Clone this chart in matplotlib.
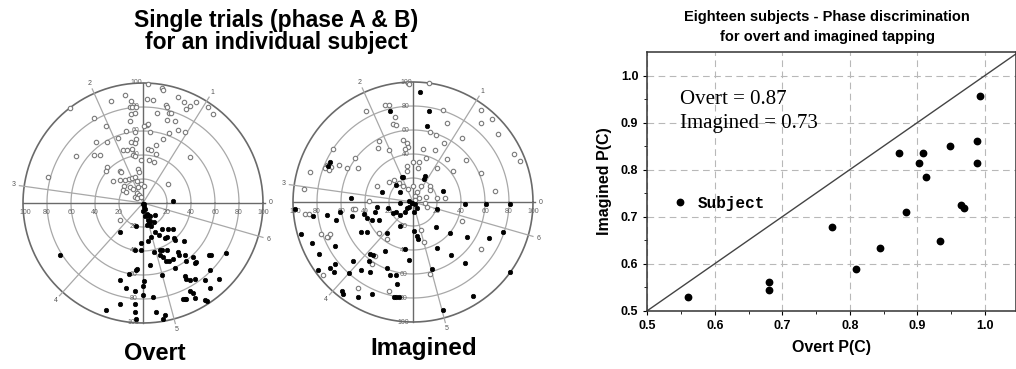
import numpy as np
import matplotlib
matplotlib.use("Agg")
import matplotlib.pyplot as plt

plt.rcParams['font.family'] = ['Liberation Sans', 'DejaVu Sans']

# ---- polar single-trial data (x, y in % of max radius) ----
overt_open = [
    (4, 99), (16, 96), (17, 94), (-15, 90), (29, 88), (34, 84), (39, 81), (44, 84),
    (-27, 85), (-61, 79), (-10, 85), (-11, 80), (-9, 80), (-6, 80), (3, 87), (8, 86),
    (19, 82), (20, 80), (54, 80), (58, 74), (36, 78), (-10, 74), (-7, 75), (12, 75),
    (22, 75), (23, 75), (-41, 71), (-11, 68), (20, 69), (27, 68), (-31, 64), (3, 65),
    (4, 66), (1, 64), (29, 61), (35, 59), (-14, 60), (-7, 59), (6, 59), (-21, 54),
    (22, 58), (-10, 51), (-6, 53), (-7, 50), (17, 53), (11, 48), (-39, 51), (-30, 51),
    (4, 45), (7, 44), (-17, 44), (-13, 44), (-9, 45), (-41, 40), (-36, 40), (-56, 39),
    (-8, 40), (-7, 39), (-2, 36), (5, 36), (9, 34), (11, 41), (39, 38), (-30, 30),
    (-31, 27), (-19, 27), (-18, 26), (-4, 28), (-3, 26), (-79, 22), (-25, 18), (-19, 19),
    (-15, 19), (-12, 20), (-9, 21), (-7, 22), (-5, 18), (-2, 16), (1, 14), (21, 16),
    (-16, 14), (-11, 13), (-8, 12), (-4, 13), (-5, 8), (-3, 7), (-7, 5), (-5, 4),
    (-2, 5), (-17, 11), (-14, 9), (-19, -14),
]
overt_fill = [
    (25, 2), (1, -1), (0, -1), (1, -3), (2, -5), (0, -7), (3, -9), (2, -11), (4, -10),
    (6, -11), (10, -10), (4, -14), (6, -15), (5, -17), (9, -16), (3, -18), (7, -19),
    (-6, -19), (-19, -24), (10, -24), (16, -22), (21, -22), (25, -22), (13, -27),
    (7, -28), (18, -29), (20, -28), (26, -29), (27, -31), (34, -32), (-2, -33), (4, -32),
    (-2, -39), (-7, -39), (9, -41), (14, -39), (16, -39), (20, -39), (14, -43), (17, -45),
    (19, -48), (22, -48), (25, -47), (29, -41), (30, -43), (35, -43), (36, -48), (42, -45),
    (44, -49), (43, -50), (55, -43), (57, -43), (69, -42), (-69, -43), (6, -52), (27, -54),
    (-6, -56), (-5, -55), (-12, -59), (-19, -64), (16, -60), (35, -61), (36, -63),
    (39, -64), (52, -64), (56, -56), (63, -63), (43, -63), (1, -65), (0, -69), (-14, -71),
    (-7, -73), (0, -77), (8, -78), (39, -73), (42, -75), (43, -79), (56, -71), (33, -80),
    (35, -80), (36, -80), (52, -81), (53, -82), (-19, -84), (-7, -84), (-31, -89),
    (11, -91), (-7, -91), (18, -93), (17, -97), (-6, -97),
]
imag_open = [
    (-4, 99), (-3, 98), (13, 99), (-39, 76), (-23, 81), (-20, 81), (-15, 71), (-17, 65),
    (-14, 64), (25, 77), (28, 66), (57, 77), (57, 66), (66, 69), (71, 57), (14, 58),
    (19, 56), (26, 49), (41, 53), (-8, 52), (-5, 49), (-4, 46), (-7, 44), (-28, 51),
    (-29, 45), (-20, 43), (8, 44), (18, 43), (-67, 44), (-48, 37), (-55, 28), (-46, 28),
    (-62, 31), (-72, 31), (-73, 28), (-68, 29), (-70, 27), (-86, 25), (-91, 11), (0, 33),
    (5, 33), (11, 37), (4, 28), (28, 36), (20, 28), (33, 26), (44, 35), (57, 24), (68, 9),
    (-5, 30), (-5, 26), (84, 40), (89, 34), (-20, 17), (-16, 18), (-12, 16), (-8, 13),
    (-4, 11), (-30, 13), (-37, 1), (0, 13), (3, 8), (7, 13), (14, 13), (14, 10), (20, 3),
    (11, 4), (5, 3), (27, 3), (2, 5), (2, 2), (-90, -10), (-87, -10), (-50, -6),
    (-48, -6), (-77, -27), (-71, -29), (-69, -27), (-72, -29), (-28, -26), (-22, -31),
    (9, -33), (7, -23), (12, -4), (10, -1), (41, -16), (57, -39), (14, -60), (-34, -52),
    (-75, -61), (-46, -72), (-20, -74), (-32, -45),
]
imag_fill = [
    (6, 92), (-19, 76), (13, 76), (12, 63), (-69, 33), (-71, 30), (-9, 21), (-8, 21),
    (10, 22), (9, 19), (-14, 14), (-26, 8), (-11, 8), (25, 9), (-52, 3), (-3, 1),
    (-1, -1), (43, -2), (61, -2), (81, -2), (-98, -6), (-83, -12), (-72, -11), (-61, -8),
    (-51, -12), (-64, -15), (-41, -10), (-38, -13), (-34, -15), (-32, -8), (-30, -4),
    (-28, -15), (-21, -5), (-17, -9), (-14, -8), (-11, -11), (-7, -8), (-5, -5), (-3, -4),
    (-1, -1), (2, -2), (3, -5), (1, -8), (-11, -1), (20, -6), (-43, -25), (-38, -25),
    (-22, -26), (-11, -20), (1, -24), (3, -28), (19, -21), (31, -26), (45, -29),
    (63, -30), (75, -25), (4, -31), (20, -38), (-93, -27), (-84, -34), (-65, -37),
    (-78, -43), (-36, -43), (-33, -44), (-37, -49), (-23, -41), (-3, -48), (-7, -39),
    (32, -44), (43, -51), (16, -56), (-79, -57), (-69, -55), (-66, -58), (-65, -52),
    (-53, -59), (-50, -49), (-43, -57), (-36, -58), (-22, -55), (-19, -61), (-14, -61),
    (-13, -68), (81, -58), (-59, -74), (-58, -77), (-46, -79), (-34, -77), (-16, -79),
    (-14, -79), (-12, -79), (50, -78), (25, -90),
]
spoke_angles = [58, 114, 172, 228, 285, 344]
spoke_names = ['1', '2', '3', '4', '5', '6']
ring_values = [20, 40, 60, 80, 100]

# ---- eighteen subjects ----
overt_pc = [0.56, 0.68, 0.68, 0.774, 0.809, 0.844, 0.873, 0.883, 0.903, 0.909,
            0.913, 0.933, 0.949, 0.964, 0.969, 0.988, 0.988, 0.993]
imagined_pc = [0.529, 0.562, 0.544, 0.679, 0.589, 0.634, 0.835, 0.709, 0.815, 0.835,
               0.785, 0.649, 0.850, 0.725, 0.719, 0.860, 0.815, 0.956]
pc_ticks = [0.5, 0.6, 0.7, 0.8, 0.9, 1.0]

W, H = 1016, 369
fig = plt.figure(figsize=(W / 100, H / 100), dpi=100)


def polar_panel(cx, cy, rpx, open_pts, fill_pts):
    lim = 116
    half = rpx * lim / 100
    ax = fig.add_axes([(cx - half) / W, (H - cy - half) / H, 2 * half / W, 2 * half / H])
    ax.set_xlim(-lim, lim)
    ax.set_ylim(-lim, lim)
    ax.axis('off')
    t = np.linspace(0, 2 * np.pi, 400)
    for r in ring_values[:-1]:
        ax.plot(r * np.cos(t), r * np.sin(t), color='#a8a8a8', lw=0.9, zorder=1)
    ax.plot(100 * np.cos(t), 100 * np.sin(t), color='#6a6a6a', lw=1.2, zorder=1)
    for a, name in zip(spoke_angles, spoke_names):
        th = np.deg2rad(a)
        ax.plot([0, 104 * np.cos(th)], [0, 104 * np.sin(th)], color='#a8a8a8', lw=0.9, zorder=1)
        ax.text(109 * np.cos(th), 109 * np.sin(th), name, fontsize=5, color='#555555',
                ha='center', va='center')
    ax.plot([-100, 102], [0, 0], color='#6a6a6a', lw=1.0, zorder=1)
    ax.plot([0, 0], [-100, 100], color='#6a6a6a', lw=1.0, zorder=1)
    ax.text(106, 0, '0', fontsize=5, color='#555555', ha='center', va='center')
    lab = dict(fontsize=5, color='#666666', ha='center', va='center')
    for r in ring_values:
        ax.text(r, -8, str(r), **lab)
        ax.text(-r + (2 if r == 100 else 0), -8, str(r), **lab)
        if r > 20:
            ax.text(-6, r, str(r), **lab)
        ax.text(-8, -r, str(r), **lab)
    ox, oy = zip(*open_pts)
    fx, fy = zip(*fill_pts)
    ax.plot(ox, oy, 'o', ms=3.2, mfc='white', mec='#7a7a7a', mew=0.8, zorder=3)
    ax.plot(fx, fy, 'o', ms=3.2, mfc='black', mec='black', mew=0.5, zorder=4)
    return ax


polar_panel(143, 203, 120, overt_open, overt_fill)
polar_panel(413, 202, 120, imag_open, imag_fill)

fig.text(276 / W, 1 - 20 / H, 'Single trials (phase A & B)', fontsize=16.5,
         fontweight='bold', ha='center', va='center')
fig.text(276 / W, 1 - 43 / H, 'for an individual subject', fontsize=16.5,
         fontweight='bold', ha='center', va='center')
fig.text(155 / W, 1 - 354 / H, 'Overt', fontsize=17, fontweight='bold',
         ha='center', va='center')
fig.text(424 / W, 1 - 348 / H, 'Imagined', fontsize=17.5, fontweight='bold',
         ha='center', va='center')

# ---- scatter panel ----
ax = fig.add_axes([647.3 / W, (H - 310.7) / H, (W - 647.3) / W, (310.7 - 52) / H])
ax.set_xlim(0.5, 1.046)
ax.set_ylim(0.5, 1.05)
ax.set_xticks(pc_ticks)
ax.set_yticks(pc_ticks)
ax.set_xticks(np.arange(0.55, 1.05, 0.1), minor=True)
ax.set_yticks(np.arange(0.55, 1.05, 0.1), minor=True)
ax.set_xticklabels(['%.1f' % v for v in pc_ticks], fontsize=9, fontweight='bold')
ax.set_yticklabels(['%.1f' % v for v in pc_ticks], fontsize=9, fontweight='bold')
ax.tick_params(which='major', direction='out', length=3, width=0.8)
ax.tick_params(which='minor', direction='out', length=2, width=0.6)
ax.grid(True, which='major', ls=(0, (6, 4)), color='#b8b8b8', lw=0.8)
ax.set_axisbelow(True)
for s in ax.spines.values():
    s.set_linewidth(1.1)
    s.set_color('#333333')
ax.plot([0.5, 1.05], [0.5, 1.05], color='#444444', lw=1.0, zorder=2)
ax.plot(overt_pc, imagined_pc, 'o', ms=4.6, color='black', zorder=3, label='Subject')
ax.legend(loc='center left', bbox_to_anchor=(0.055, 0.415), frameon=False,
          handlelength=0.6, handletextpad=0.8, borderpad=0,
          prop={'family': 'Liberation Mono', 'weight': 'bold', 'size': 11.5})
ax.text(0.548, 0.948, 'Overt = 0.87', family='Liberation Serif', fontsize=15,
        va='center', ha='left')
ax.text(0.548, 0.897, 'Imagined = 0.73', family='Liberation Serif', fontsize=15,
        va='center', ha='left')
ax.set_xlabel('Overt P(C)', fontsize=11.5, fontweight='bold', labelpad=6)
ax.set_ylabel('Imagined P(C)', fontsize=11.5, fontweight='bold', labelpad=6)
fig.text(827 / W, 1 - 17 / H, 'Eighteen subjects - Phase discrimination', fontsize=10.5,
         fontweight='bold', ha='center', va='center')
fig.text(827 / W, 1 - 37 / H, 'for overt and imagined tapping', fontsize=10.5,
         fontweight='bold', ha='center', va='center')

fig.savefig('out.png', dpi=100, facecolor='white')
